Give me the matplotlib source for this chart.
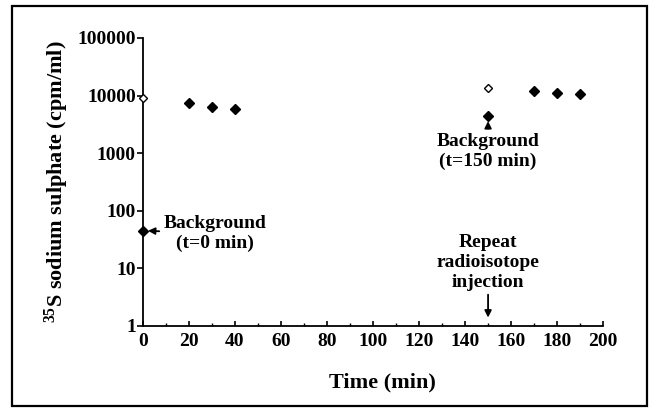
import matplotlib
matplotlib.use("Agg")
import matplotlib.pyplot as plt
from matplotlib.patches import Rectangle
from matplotlib.ticker import MultipleLocator, FixedLocator, FixedFormatter

plt.rcParams['font.family'] = ['Liberation Serif', 'DejaVu Serif']
plt.rcParams['font.weight'] = 'bold'
plt.rcParams['mathtext.fontset'] = 'custom'
plt.rcParams['mathtext.rm'] = 'Liberation Serif:bold'
plt.rcParams['mathtext.default'] = 'rm'

# 實心菱形：樣本
time_filled = [0, 20, 30, 40, 150, 170, 180, 190]
conc_filled = [45, 7300, 6400, 5900, 4400, 11900, 11000, 10500]
# 空心菱形
time_open = [0, 150]
conc_open = [9200, 13400]

y_ticks = [1, 10, 100, 1000, 10000, 100000]
y_labels = ["1", "10", "100", "1000", "10000", "100000"]
x_ticks = [0, 20, 40, 60, 80, 100, 120, 140, 160, 180, 200]

fig = plt.figure(figsize=(6.5, 4.08), dpi=100)
ax = fig.add_axes([0.2195, 0.201, 0.7085, 0.706])

ax.plot(time_filled, conc_filled, ls="none", marker="D", ms=5.5,
        color="black", clip_on=False, zorder=3)
ax.plot(time_open, conc_open, ls="none", marker="D", ms=4,
        mfc="white", mec="black", mew=1.0, clip_on=False, zorder=3)

ax.set_yscale("log")
ax.set_ylim(1, 100000)
ax.set_xlim(0, 200)
ax.yaxis.set_major_locator(FixedLocator(y_ticks))
ax.yaxis.set_major_formatter(FixedFormatter(y_labels))
ax.yaxis.set_minor_locator(FixedLocator([]))
ax.xaxis.set_major_locator(FixedLocator(x_ticks))
ax.xaxis.set_minor_locator(MultipleLocator(10))

for s in ["top", "right"]:
    ax.spines[s].set_visible(False)
for s in ["left", "bottom"]:
    ax.spines[s].set_linewidth(1.3)

ax.tick_params(axis="y", which="major", direction="out", length=4.5,
               width=1.2, pad=0.5, labelsize=14)
ax.tick_params(axis="x", which="major", direction="in", length=3.5,
               width=1.2, pad=5, labelsize=14)
ax.tick_params(axis="x", which="minor", direction="in", length=2,
               width=1.0)

ax.set_xlabel("Time (min)", fontsize=16, fontweight="bold")
ax.xaxis.set_label_coords(0.52, -0.16)
ax.set_ylabel("$^{35}$S sodium sulphate (cpm/ml)", fontsize=16,
              fontweight="bold")
ax.yaxis.set_label_coords(-0.155, 0.5)

arrow = dict(arrowstyle="-|>", color="black", lw=1.3, mutation_scale=10,
             shrinkA=1, shrinkB=0)
ax.annotate("Background\n(t=0 min)", xy=(2.3, 45), xytext=(9, 40),
            ha="left", va="center", multialignment="center",
            fontsize=14, fontweight="bold", arrowprops=arrow,
            annotation_clip=False)
ax.annotate("Background\n(t=150 min)", xy=(150, 3600), xytext=(150, 1080),
            ha="center", va="center", multialignment="center",
            fontsize=14, fontweight="bold", arrowprops=arrow)
ax.annotate("Repeat\nradioisotope\ninjection", xy=(150, 1.4),
            xytext=(150, 12.7), ha="center", va="center",
            multialignment="center", fontsize=14, fontweight="bold",
            arrowprops=arrow)

# 外框
fig.patches.append(Rectangle((0.018, 0.005), 0.978, 0.98,
                             transform=fig.transFigure, fill=False,
                             edgecolor="black", lw=1.6))

fig.savefig("out.png", dpi=100)
